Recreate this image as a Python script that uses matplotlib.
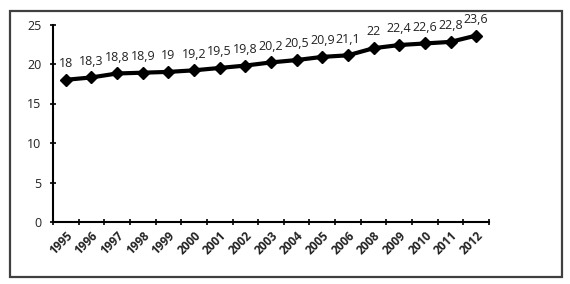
import matplotlib
matplotlib.use("Agg")
import matplotlib.pyplot as plt
from matplotlib.patches import Rectangle
import numpy as np

years = ["1995", "1996", "1997", "1998", "1999", "2000", "2001", "2002", "2003",
         "2004", "2005", "2006", "2008", "2009", "2010", "2011", "2012"]
values = [18, 18.3, 18.8, 18.9, 19, 19.2, 19.5, 19.8, 20.2,
          20.5, 20.9, 21.1, 22, 22.4, 22.6, 22.8, 23.6]
yticks = [0, 5, 10, 15, 20, 25]

plt.rcParams['font.family'] = ['Open Sans', 'DejaVu Sans']

fig = plt.figure(figsize=(5.7, 2.84), dpi=100)
fig.patches.append(Rectangle((10/570, 1-277/284), 552/570, 266/284,
                             transform=fig.transFigure, fill=False,
                             edgecolor='#404040', linewidth=1.6))
ax = fig.add_axes([53/570, 1-222/284, (489-53)/570, (222-24.5)/284])

x = np.arange(len(years))
ax.plot(x, values, color='black', linewidth=3, marker='D', markersize=6.5)
for xi, v in zip(x, values):
    ax.annotate(f"{v:g}".replace('.', ','), (xi, v), xytext=(0, 7),
                textcoords='offset points', ha='center', va='bottom',
                fontsize=9, color='#222222')

ax.set_xlim(-0.5, len(years) - 0.5)
ax.set_ylim(0, 25)
ax.set_yticks(yticks)
ax.set_yticklabels([str(t) for t in yticks], fontsize=9, color='#222222')
ax.set_xticks(x)
ax.set_xticklabels(years, rotation=45, ha='right', rotation_mode='anchor',
                   fontsize=8.5, fontweight='bold', color='#222222')
ax.tick_params(axis='x', length=0, pad=5)
ax.set_xticks(np.arange(-0.5, len(years), 1), minor=True)
ax.tick_params(axis='x', which='minor', length=5, direction='inout', width=1.2)
ax.tick_params(axis='y', length=5, direction='inout', width=1.2, pad=6)
for s in ['top', 'right']:
    ax.spines[s].set_visible(False)
for s in ['left', 'bottom']:
    ax.spines[s].set_linewidth(1.5)

fig.savefig("out.png", dpi=100)
